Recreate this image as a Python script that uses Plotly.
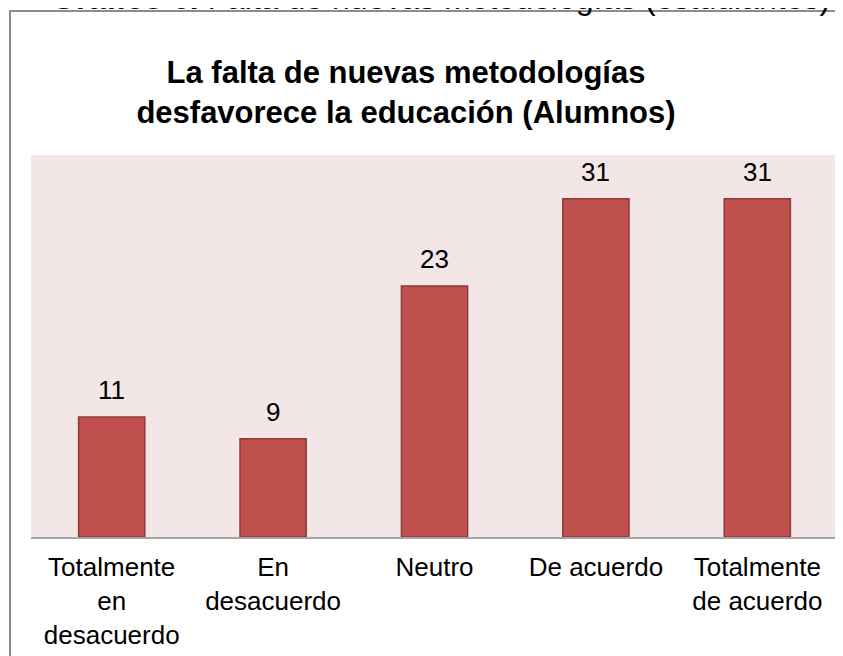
import plotly.graph_objects as go

categories = ["Totalmente<br>en<br>desacuerdo", "En<br>desacuerdo", "Neutro", "De acuerdo", "Totalmente<br>de acuerdo"]
values = [11, 9, 23, 31, 31]
chart_title = "<b>La falta de nuevas metodologías<br>desfavorece la educación (Alumnos)</b>"
header_text = "<b>Gráfico 6.</b> Falta de nuevas metodologías (estudiantes)"

W, H = 843, 656
OFF = 8  # page body margin
L, T = 31 - OFF, 155 - OFF
pw, ph = 807, 382
R, B = W - L - pw, H - T - ph

def px_x(x):
    return (x - OFF - L) / pw

def px_y(y):
    return 1 + (T - (y - OFF)) / ph

FONT = "Arial, Liberation Sans, sans-serif"

fig = go.Figure(go.Bar(
    x=categories, y=values,
    marker=dict(color="#C0504D", line=dict(color="#8C3A38", width=1.5)),
    width=0.41,
    hoverinfo="x+y",
))

annotations = [dict(x=c, y=v, xref="x", yref="y", text=str(v), showarrow=False,
                    yanchor="bottom", yshift=10,
                    font=dict(family=FONT, size=26, color="#000000"))
               for c, v in zip(categories, values)]
annotations.append(dict(text=header_text, xref="paper", yref="paper",
                        x=px_x(440), y=px_y(-2.5), xanchor="center", yanchor="middle",
                        showarrow=False, font=dict(family=FONT, size=32, color="#000000")))

fig.update_layout(
    width=W, height=H,
    margin=dict(l=L, r=R, t=T, b=B),
    paper_bgcolor="white", plot_bgcolor="#F2E6E6",
    font=dict(family=FONT, color="#000000"),
    showlegend=False,
    title=dict(text=chart_title, font=dict(family=FONT, size=31, color="#000000"),
               xref="paper", x=px_x(406), xanchor="center",
               yref="container", y=1 - (83 - OFF) / H, yanchor="middle"),
    xaxis=dict(showline=True, linecolor="#A6A6A6", linewidth=2, ticks="",
               tickfont=dict(family=FONT, size=26), ticklabelstandoff=6,
               showgrid=False, fixedrange=True),
    yaxis=dict(range=[0, 35], visible=False, showgrid=False, fixedrange=True),
    shapes=[dict(type="rect", xref="paper", yref="paper",
                 x0=px_x(10), x1=px_x(900), y0=px_y(900), y1=px_y(11),
                 line=dict(color="#8C8C8C", width=2), fillcolor="rgba(0,0,0,0)", layer="below")],
    annotations=annotations,
)

fig.write_html("out.html")
